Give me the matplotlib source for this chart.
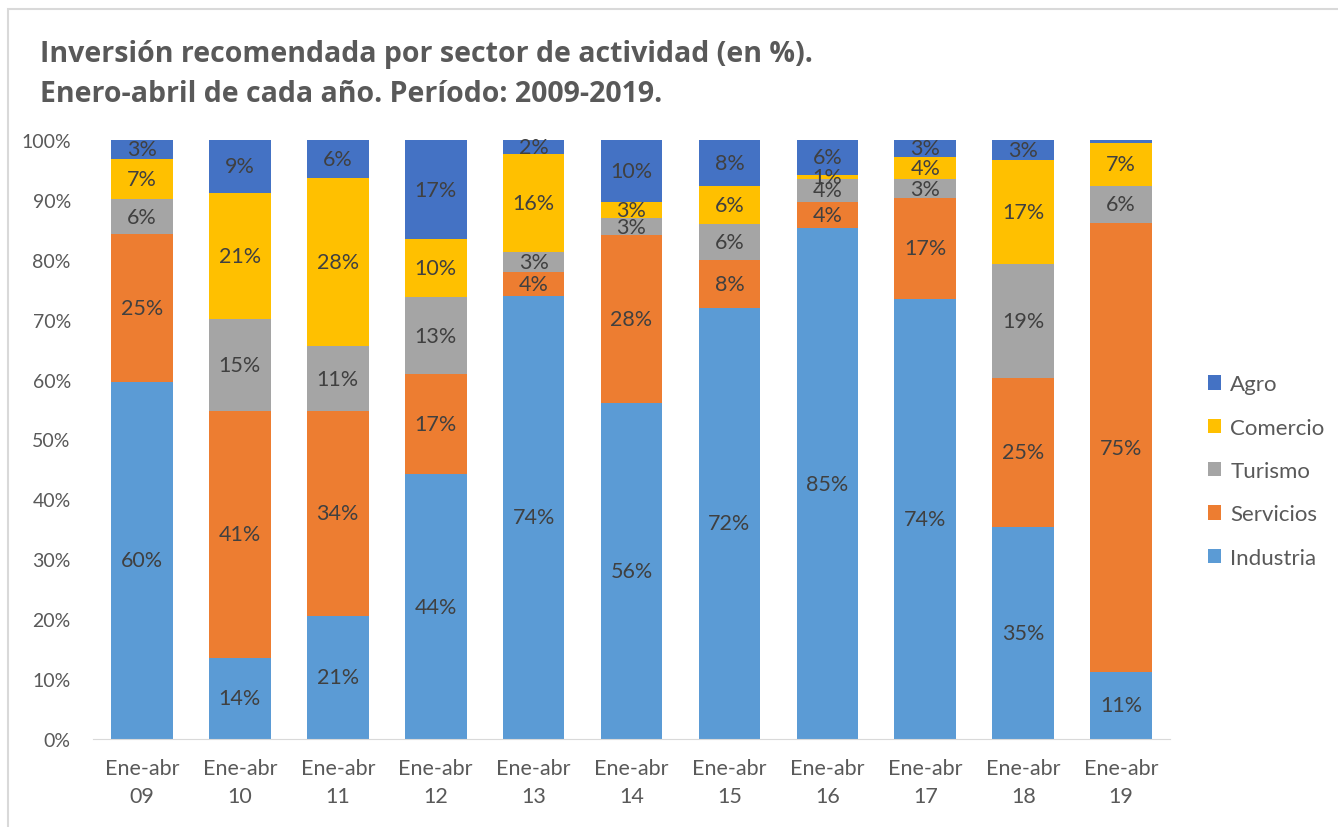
import numpy as np
import matplotlib.pyplot as plt
from matplotlib.patches import Rectangle

plt.rcParams['font.family'] = ['Lato', 'DejaVu Sans']

# data (% of recommended investment, Jan-Apr of each year)
years = ['09', '10', '11', '12', '13', '14', '15', '16', '17', '18', '19']
industria = [59.6, 13.6, 20.6, 44.2, 74.0, 56.1, 72.0, 85.3, 73.5, 35.4, 11.2]
servicios = [24.7, 41.1, 34.1, 16.7, 4.0, 28.0, 8.0, 4.4, 16.8, 24.9, 74.9]
turismo = [5.8, 15.4, 10.9, 12.9, 3.3, 2.9, 6.0, 3.8, 3.2, 19.0, 6.3]
comercio = [6.8, 21.1, 28.1, 9.6, 16.3, 2.6, 6.3, 0.7, 3.7, 17.4, 7.1]
agro = [3.1, 8.8, 6.3, 16.6, 2.4, 10.4, 7.7, 5.8, 2.8, 3.3, 0.5]

series = [('Industria', industria, '#5B9BD5'),
          ('Servicios', servicios, '#ED7D31'),
          ('Turismo', turismo, '#A5A5A5'),
          ('Comercio', comercio, '#FFC000'),
          ('Agro', agro, '#4472C4')]

fig = plt.figure(figsize=(13.38, 8.28), dpi=100)
ax = fig.add_axes([0.0695, 0.1063, 0.805, 0.7234])

x = np.arange(len(years))
totals = np.sum([s[1] for s in series], axis=0)
bottom = np.zeros(len(years))
for name, vals, col in series:
    frac = np.array(vals) / totals
    ax.bar(x, frac, 0.63, bottom=bottom, color=col, label=name)
    for xi, b, f in zip(x, bottom, frac):
        if f * 100 >= 0.6:
            ax.text(xi, b + f / 2, '%d%%' % round(f * 100), ha='center', va='center',
                    fontsize=15.5, color='#404040')
    bottom += frac

ax.set_xlim(-0.5, len(years) - 0.5)
ax.set_ylim(0, 1)
ax.set_yticks(np.arange(0, 1.01, 0.1))
ax.set_yticklabels(['%d%%' % v for v in range(0, 101, 10)])
ax.set_xticks(x)
ax.set_xticklabels(['Ene-abr\n' + y for y in years], linespacing=1.45)
ax.tick_params(axis='both', length=0, colors='#595959', labelsize=14)
ax.tick_params(axis='x', pad=14, labelsize=15.5)
ax.tick_params(axis='y', pad=16)
for side in ['top', 'right', 'left']:
    ax.spines[side].set_visible(False)
ax.spines['bottom'].set_color('#D9D9D9')

handles, labels = ax.get_legend_handles_labels()
leg = fig.legend(handles[::-1], labels[::-1], loc='center left', bbox_to_anchor=(0.888, 0.43),
                 frameon=False, fontsize=16, labelspacing=1.05, handlelength=0.6,
                 handleheight=0.6, handletextpad=0.4)
for t in leg.get_texts():
    t.set_color('#595959')

fig.text(0.030, 0.934, 'Inversión recomendada por sector de actividad (en %).',
         fontsize=20.5, fontweight='bold', color='#595959', va='center',
         family=['Open Sans', 'DejaVu Sans'])
fig.text(0.030, 0.886, 'Enero-abril de cada año. Período: 2009-2019.',
         fontsize=20.5, fontweight='bold', color='#595959', va='center',
         family=['Open Sans', 'DejaVu Sans'])

fig.patches.append(Rectangle((0.006, -0.01), 1.1, 0.998, transform=fig.transFigure,
                             fill=False, edgecolor='#D9D9D9', lw=1.5))

fig.savefig('out.png', dpi=100)
